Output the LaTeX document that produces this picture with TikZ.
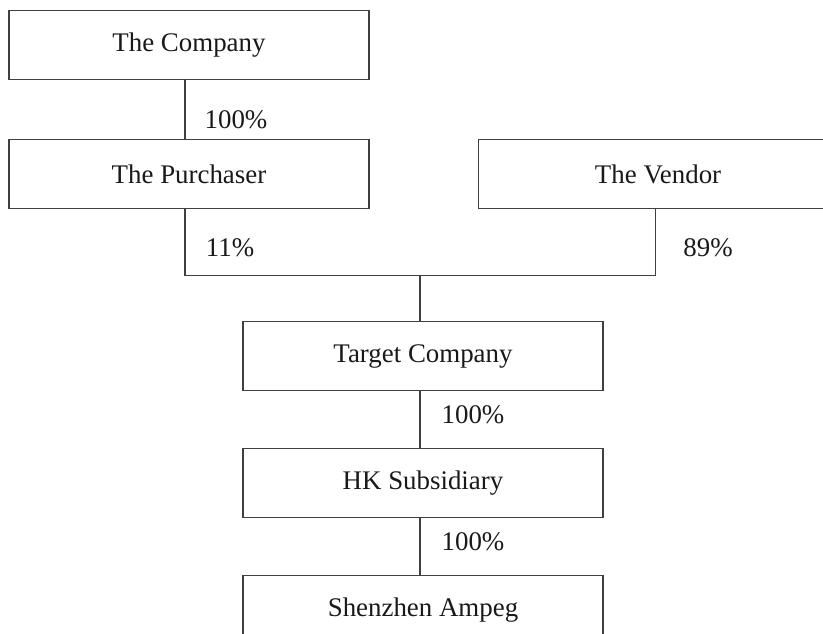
\documentclass[tikz,border=0pt]{standalone}
\usepackage{fontspec}
\setmainfont{Liberation Serif}
\usepackage{tikz}
\usetikzlibrary{positioning}

\begin{document}
\begin{tikzpicture}[
    node distance=1.18cm and 2.16cm,
    entity/.style={draw=black!75, line width=0.6pt, align=center,
                   font=\fontsize{15.3}{18}\selectfont, text=black!90,
                   minimum width=7.2cm, minimum height=1.38cm, inner sep=0pt},
    pct/.style={font=\fontsize{15.3}{18}\selectfont, text=black!90, inner sep=0pt},
    link/.style={draw=black!75, line width=0.6pt}
]
\clip (0,0) rectangle (16.46,-12.66);

\node[entity] (comp) at (3.78,-0.90) {The Company};
\node[entity, below=of comp] (purch) {The Purchaser};
\node[entity, right=of purch] (vend) {The Vendor};
\node[entity, below=2.24cm of purch, xshift=4.68cm] (target) {Target Company};
\node[entity, below=1.14cm of target] (hk) {HK Subsidiary};
\node[entity, below=1.14cm of hk] (shz) {Shenzhen Ampeg};

% ownership shares
\node[pct] (p1) at (4.72,-2.40) {100\%};
\node[pct] (p2) at (4.60,-4.96) {11\%};
\node[pct] (p3) at (14.16,-4.96) {89\%};
\node[pct] (p4) at (9.46,-8.30) {100\%};
\node[pct] (p5) at (9.46,-10.84) {100\%};

\draw[link] ([xshift=-0.08cm]comp.south) -- ([xshift=-0.08cm]purch.north);
\draw[link] ([xshift=-0.08cm]purch.south) -- ++(0,-1.32) coordinate (jn)
    -| ([xshift=-0.06cm]vend.south);
\draw[link] ([xshift=-0.06cm]target.north) -- ([xshift=-0.06cm]target.north |- jn);
\draw[link] ([xshift=-0.06cm]target.south) -- ([xshift=-0.06cm]hk.north);
\draw[link] ([xshift=-0.06cm]hk.south) -- ([xshift=-0.06cm]shz.north);
\end{tikzpicture}
\end{document}
